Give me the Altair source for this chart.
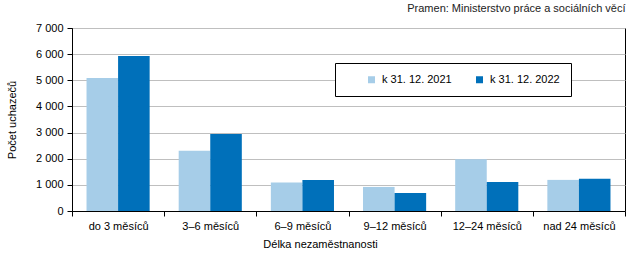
import altair as alt
import pandas as pd

categories = ["do 3 měsíců", "3–6 měsíců", "6–9 měsíců", "9–12 měsíců", "12–24 měsíců", "nad 24 měsíců"]
series = ["k 31. 12. 2021", "k 31. 12. 2022"]
values_2021 = [5090, 2300, 1090, 920, 1980, 1190]
values_2022 = [5930, 2950, 1190, 690, 1110, 1230]
colors = ["#A6CDE8", "#0070BA"]

rows = []
for c, a, b in zip(categories, values_2021, values_2022):
    rows.append({"kat": c, "serie": series[0], "v": a})
    rows.append({"kat": c, "serie": series[1], "v": b})
df = pd.DataFrame(rows)

FONT = "Liberation Sans"

chart = alt.Chart(df).mark_bar().encode(
    x=alt.X("kat:N", sort=categories,
            scale=alt.Scale(paddingInner=0, paddingOuter=0),
            axis=alt.Axis(title="Délka nezaměstnanosti", labelAngle=0, tickBand="extent",
                          grid=False, domainColor="black", tickColor="black", tickSize=5,
                          labelPadding=4, labelFontSize=11, labelColor="black",
                          titleFontSize=11, titleFontWeight="normal", titleColor="black",
                          titleX=248, titleY=33, titleAlign="center", titleBaseline="middle")),
    xOffset=alt.XOffset("serie:N", sort=series, scale=alt.Scale(paddingOuter=0.46, paddingInner=0)),
    y=alt.Y("v:Q", scale=alt.Scale(domain=[0, 7000]),
            axis=alt.Axis(title="Počet uchazečů", values=[0, 1000, 2000, 3000, 4000, 5000, 6000, 7000],
                          labelExpr="replace(format(datum.value, ','), ',', ' ')",
                          gridColor="#BFBFBF", domainColor="black", tickColor="black", tickSize=5,
                          labelPadding=4, labelFontSize=11, labelColor="black",
                          titleFontSize=11, titleFontWeight="normal", titleColor="black",
                          titleX=-60, titleAlign="center", titleBaseline="middle")),
    color=alt.Color("serie:N", sort=series, scale=alt.Scale(domain=series, range=colors),
                    legend=alt.Legend(title=None, orient="none", direction="horizontal",
                                      legendX=263, legendY=35, padding=11,
                                      strokeColor="black", fillColor="white",
                                      symbolType="square", symbolSize=49, symbolStrokeWidth=0,
                                      symbolOffset=20, labelFontSize=11, labelColor="black",
                                      columnPadding=2, labelOffset=5)),
).properties(
    width=553, height=183,
    title=alt.TitleParams("Pramen: Ministerstvo práce a sociálních věcí", anchor="end",
                          fontSize=11, fontWeight="normal", color="#222222", offset=8, font=FONT),
    autosize=alt.AutoSizeParams(type="none"),
    padding={"left": 72, "top": 28, "right": 18, "bottom": 50},
).configure(font=FONT).configure_view(stroke="black", strokeWidth=1).configure_axis(
    labelFont=FONT, titleFont=FONT)

chart.save("out.html", embed_options={"renderer": "svg", "actions": False})
